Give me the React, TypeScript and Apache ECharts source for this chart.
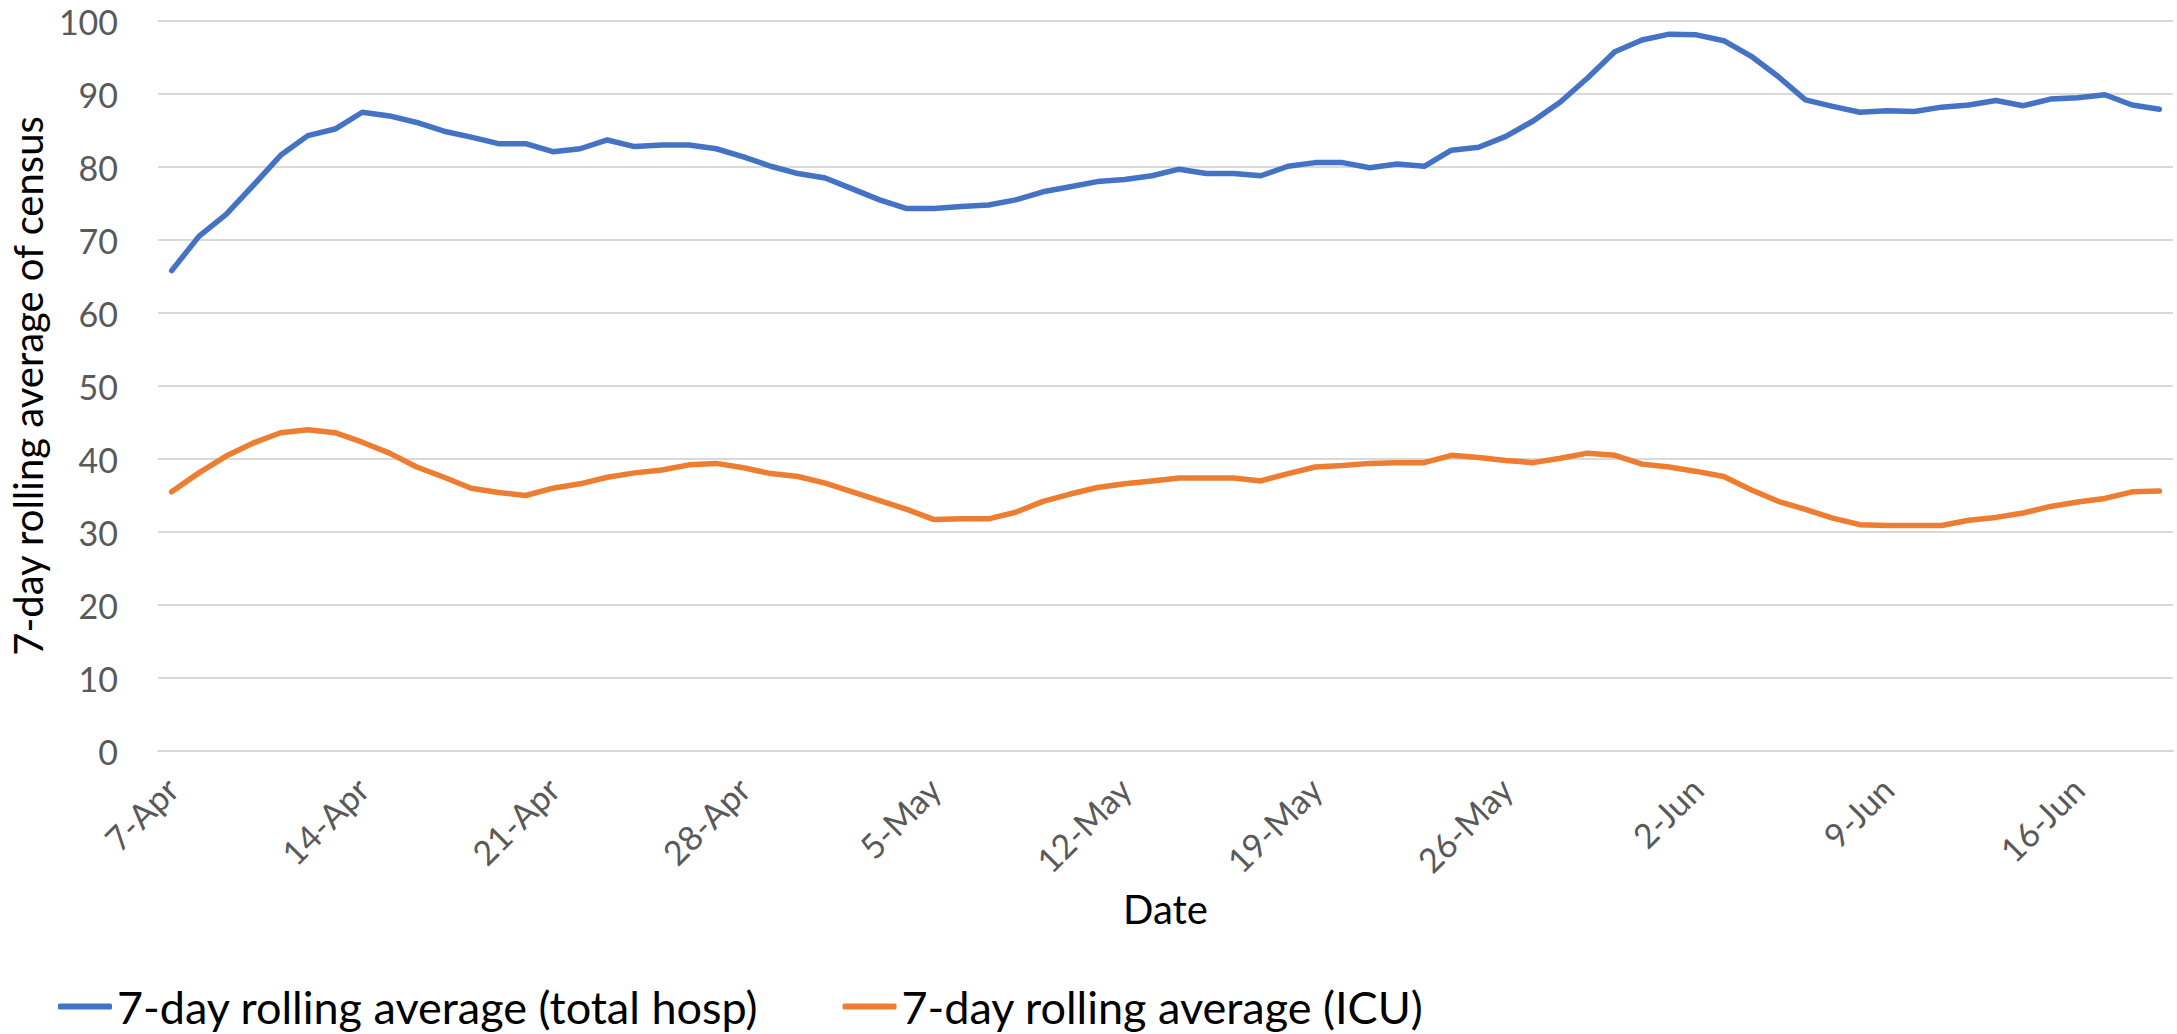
import React, { useEffect, useRef } from "react";
import * as echarts from "echarts";

const categories = [
  "7-Apr","8-Apr","9-Apr","10-Apr","11-Apr","12-Apr","13-Apr","14-Apr","15-Apr","16-Apr",
  "17-Apr","18-Apr","19-Apr","20-Apr","21-Apr","22-Apr","23-Apr","24-Apr","25-Apr","26-Apr",
  "27-Apr","28-Apr","29-Apr","30-Apr","1-May","2-May","3-May","4-May","5-May","6-May",
  "7-May","8-May","9-May","10-May","11-May","12-May","13-May","14-May","15-May","16-May",
  "17-May","18-May","19-May","20-May","21-May","22-May","23-May","24-May","25-May","26-May",
  "27-May","28-May","29-May","30-May","31-May","1-Jun","2-Jun","3-Jun","4-Jun","5-Jun",
  "6-Jun","7-Jun","8-Jun","9-Jun","10-Jun","11-Jun","12-Jun","13-Jun","14-Jun","15-Jun",
  "16-Jun","17-Jun","18-Jun","19-Jun"
];

const totalHosp = [
  65.8, 70.5, 73.5, 77.5, 81.6, 84.3, 85.2, 87.5, 87.0, 86.1,
  84.9, 84.1, 83.2, 83.2, 82.1, 82.5, 83.7, 82.8, 83.0, 83.0,
  82.5, 81.4, 80.1, 79.1, 78.5, 77.0, 75.5, 74.3, 74.3, 74.6,
  74.8, 75.5, 76.6, 77.3, 78.0, 78.3, 78.8, 79.7, 79.1, 79.1,
  78.8, 80.1, 80.6, 80.6, 79.9, 80.4, 80.1, 82.3, 82.7, 84.2,
  86.3, 88.9, 92.2, 95.8, 97.4, 98.2, 98.1, 97.3, 95.2, 92.4,
  89.2, 88.3, 87.5, 87.7, 87.6, 88.2, 88.5, 89.1, 88.4, 89.3,
  89.5, 89.9, 88.5, 87.9
];

const icu = [
  35.5, 38.1, 40.4, 42.2, 43.6, 44.0, 43.6, 42.3, 40.8, 38.9,
  37.5, 36.0, 35.4, 35.0, 36.0, 36.6, 37.5, 38.1, 38.5, 39.2,
  39.4, 38.8, 38.0, 37.6, 36.7, 35.5, 34.3, 33.1, 31.7, 31.8,
  31.8, 32.7, 34.2, 35.2, 36.1, 36.6, 37.0, 37.4, 37.4, 37.4,
  37.0, 38.0, 38.9, 39.1, 39.4, 39.5, 39.5, 40.5, 40.2, 39.8,
  39.5, 40.1, 40.8, 40.5, 39.3, 38.9, 38.3, 37.6, 35.8, 34.2,
  33.1, 31.9, 31.0, 30.9, 30.9, 30.9, 31.6, 32.0, 32.6, 33.5,
  34.1, 34.6, 35.5, 35.6
];

const seriesNames = ["7-day rolling average (total hosp)", "7-day rolling average (ICU)"];
const colors = ["#4472C4", "#ED7D31"];
const FONT = "Lato";

export default function App() {
  const ref = useRef<HTMLDivElement>(null);
  useEffect(() => {
    if (!ref.current) return;
    const chart = echarts.init(ref.current, undefined, { renderer: "svg" });
    chart.setOption({
      animation: false,
      backgroundColor: "#ffffff",
      textStyle: { fontFamily: FONT },
      grid: { left: 157, right: 4, top: 21, bottom: 1034 - 751 },
      legend: {
        data: seriesNames,
        left: 53,
        top: 979,
        icon: "roundRect",
        itemWidth: 54,
        itemHeight: 6,
        itemGap: 84,
        textStyle: {
          fontFamily: FONT,
          fontSize: 45,
          lineHeight: 44,
          color: "#000000",
          padding: [0, 0, 0, 0],
        },
      },
      xAxis: {
        type: "category",
        data: categories,
        boundaryGap: true,
        name: "Date",
        nameLocation: "middle",
        nameGap: 138,
        nameTextStyle: { fontFamily: FONT, fontSize: 40, color: "#000000" },
        axisLine: { show: true, lineStyle: { color: "#d9d9d9", width: 2 } },
        axisTick: { show: false },
        axisLabel: {
          interval: 6,
          rotate: 45,
          margin: 32,
          fontFamily: FONT,
          fontSize: 34,
          color: "#595959",
        },
        splitLine: { show: false },
      },
      yAxis: {
        type: "value",
        min: 0,
        max: 100,
        interval: 10,
        name: "7-day rolling average of census",
        nameLocation: "middle",
        nameGap: 110,
        nameTextStyle: { fontFamily: FONT, fontSize: 40, color: "#000000" },
        axisLine: { show: false },
        axisTick: { show: false },
        axisLabel: {
          margin: 40,
          fontFamily: FONT,
          fontSize: 34,
          lineHeight: 26,
          color: "#595959",
        },
        splitLine: { show: true, lineStyle: { color: "#d9d9d9", width: 2 } },
      },
      series: [
        {
          name: seriesNames[0],
          type: "line",
          data: totalHosp,
          showSymbol: false,
          symbol: "none",
          lineStyle: { color: colors[0], width: 5.5, cap: "round", join: "round" },
          itemStyle: { color: colors[0] },
        },
        {
          name: seriesNames[1],
          type: "line",
          data: icu,
          showSymbol: false,
          symbol: "none",
          lineStyle: { color: colors[1], width: 5.5, cap: "round", join: "round" },
          itemStyle: { color: colors[1] },
        },
      ],
    });
    return () => chart.dispose();
  }, []);
  return (
    <div
      ref={ref}
      style={{ position: "fixed", left: 0, top: 0, width: 2177, height: 1034, background: "#fff" }}
    />
  );
}
